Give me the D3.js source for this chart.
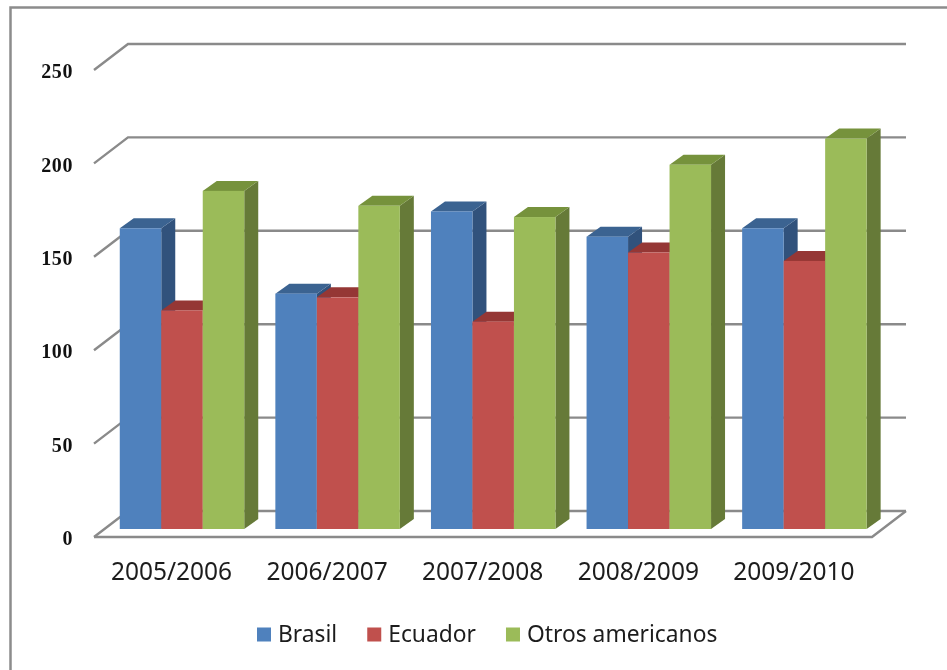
<!DOCTYPE html>
<html>
<head>
<meta charset="utf-8">
<script src="https://cdn.jsdelivr.net/npm/d3@7"></script>
<style>
  html, body { margin: 0; padding: 0; background: #fff; overflow: hidden; }
  svg { display: block; filter: blur(0.6px); }
  text { font-family: "Noto Sans", sans-serif; fill: #1c1c1c; }
</style>
</head>
<body>
<div id="chart"></div>
<script>
var categories = ["2005/2006", "2006/2007", "2007/2008", "2008/2009", "2009/2010"];
var seriesNames = ["Brasil", "Ecuador", "Otros americanos"];
var brasil = [161, 126, 170, 156.5, 161];
var ecuador = [117, 124, 111, 148, 143.5];
var otros = [181, 173, 167, 195, 209];
var yTicks = [0, 50, 100, 150, 200, 250];

var frontColors = ["#4f81bd", "#c0504d", "#9bbb59"];
var topColors = ["#3b6391", "#953735", "#76923c"];
var sideColors = ["#31527c", "#7d2f2d", "#667a38"];

var width = 947, height = 670;
var seriesValues = [brasil, ecuador, otros];

// bars stand a bit behind the front edge of the floor
var floorFrontX = 94, floorW = 778, floorDx = 34;
var frontDrop = 8, backRise = 18;
var barDx = 14, barDy = 10;

var svg = d3.select("#chart")
  .append("svg")
    .attr("width", width)
    .attr("height", height);

// frame of the pasted chart
svg.append("path")
  .attr("d", "M10.5,670V7.5H947")
  .attr("fill", "none")
  .attr("stroke", "#8c8c8c")
  .attr("stroke-width", 2.5);

var y = d3.scaleLinear()
  .domain([0, 250])
  .range([529, 62]);

var x0 = d3.scaleBand()
  .domain(categories)
  .range([floorFrontX + 10.2, floorFrontX + 10.2 + floorW])
  .paddingInner(0.2)
  .paddingOuter(0.1);

var x1 = d3.scaleBand()
  .domain(seriesNames)
  .range([0, x0.bandwidth()]);

// gridlines: diagonal on the side wall, then along the back wall
var grid = svg.append("g");
grid.selectAll("path")
  .data(yTicks)
  .enter()
  .append("path")
    .attr("fill", "none")
    .attr("stroke", "#8a8a8a")
    .attr("stroke-width", 2.4)
    .attr("d", function(d) {
      return "M" + floorFrontX + "," + (y(d) + frontDrop) +
        "L" + (floorFrontX + floorDx) + "," + (y(d) - backRise) +
        "H" + (floorFrontX + floorDx + floorW);
    });

// floor
grid.append("path")
  .attr("fill", "none")
  .attr("stroke", "#8a8a8a")
  .attr("stroke-width", 2.4)
  .attr("d", "M" + floorFrontX + "," + (y(0) + frontDrop) +
    "H" + (floorFrontX + floorW) +
    "L" + (floorFrontX + floorW + floorDx) + "," + (y(0) - backRise));

var bars = svg.append("g");
categories.forEach(function(cat, i) {
  seriesNames.forEach(function(name, s) {
    var v = seriesValues[s][i];
    var bx = x0(cat) + x1(name);
    var bw = x1.bandwidth();
    var top = y(v), base = y(0);
    var g = bars.append("g");
    g.append("path")
      .attr("fill", sideColors[s])
      .attr("d", "M" + (bx + bw) + "," + top + "l" + barDx + "," + (-barDy) +
        "V" + (base - barDy) + "L" + (bx + bw) + "," + base + "Z");
    g.append("path")
      .attr("fill", topColors[s])
      .attr("d", "M" + bx + "," + top + "l" + barDx + "," + (-barDy) +
        "h" + bw + "l" + (-barDx) + "," + barDy + "Z");
    g.append("rect")
      .attr("x", bx)
      .attr("y", top)
      .attr("width", bw)
      .attr("height", base - top)
      .attr("fill", frontColors[s]);
  });
});

// y axis labels sit on the front plane
var yAxis = d3.axisLeft(y)
  .tickValues(yTicks)
  .tickSize(0)
  .tickPadding(0);
var yG = svg.append("g")
  .attr("transform", "translate(73," + (frontDrop + 1) + ")")
  .call(yAxis);
yG.select(".domain").remove();
yG.selectAll("text")
  .style("font-family", "'Liberation Serif', serif")
  .style("font-size", "20px")
  .style("font-weight", "bold")
  .style("letter-spacing", "0.6px")
  .style("fill", "#111")
  .attr("dy", "0.33em");

// x axis labels
var xAxis = d3.axisBottom(x0)
  .tickSize(0)
  .tickPadding(0);
var xG = svg.append("g")
  .attr("transform", "translate(-10.5,563)")
  .call(xAxis);
xG.select(".domain").remove();
xG.selectAll("text")
  .style("font-family", "'Noto Sans', sans-serif")
  .style("font-size", "24.5px")
  .attr("dy", "0.71em");

// legend
var legend = svg.append("g");
var lx = 257;
seriesNames.forEach(function(name, s) {
  legend.append("rect")
    .attr("x", lx)
    .attr("y", 627.5)
    .attr("width", 14)
    .attr("height", 14)
    .attr("fill", frontColors[s]);
  var t = legend.append("text")
    .attr("x", lx + 21)
    .attr("y", 642)
    .style("font-size", "22.8px")
    .text(name);
  lx += 21 + t.node().getComputedTextLength() + 30;
});
</script>
</body>
</html>
